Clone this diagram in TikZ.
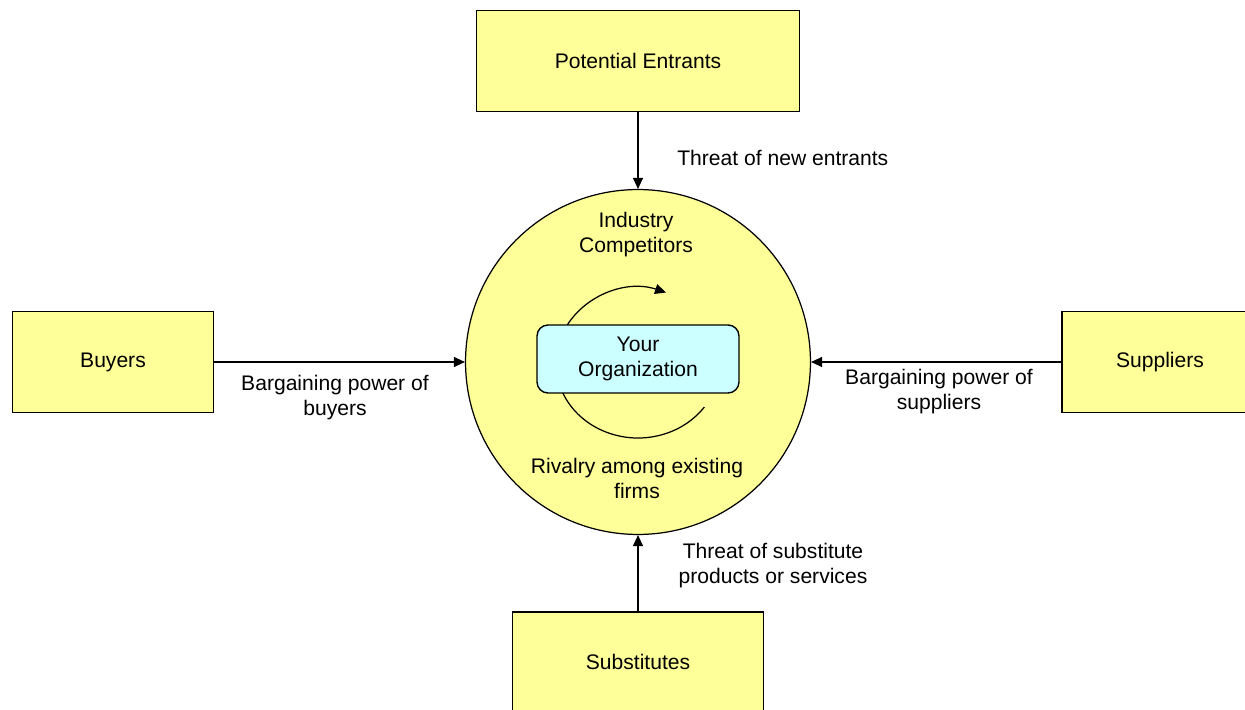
\documentclass[tikz,border=0pt]{standalone}
\usepackage{fontspec}
\setmainfont{Liberation Sans}
\usetikzlibrary{arrows.meta,positioning}
\definecolor{ForceYellow}{HTML}{FFFF99}
\definecolor{OrgCyan}{HTML}{CCFFFF}

\begin{document}
\begin{tikzpicture}[
    x=0.02cm,y=-0.02cm,
    fbox/.style={draw,fill=ForceYellow,line width=0.8pt,minimum height=2.02cm,font=\fontsize{12}{14.2}\selectfont},
    ring/.style={circle,draw,fill=ForceYellow,line width=0.7pt,minimum size=6.9cm,inner sep=0pt},
    orgbox/.style={draw,fill=OrgCyan,rounded corners=0.22cm,line width=0.8pt,minimum width=4.04cm,minimum height=1.36cm,align=center,font=\fontsize{12}{14.2}\selectfont},
    flbl/.style={align=center,inner sep=0pt,font=\fontsize{12}{14.2}\selectfont},
    >={Triangle[length=0.22cm,width=0.2cm]},
  ]
  \clip (0,0) rectangle (1245,710);
  % Forces around the industry
  \node[fbox,minimum width=6.46cm] (entrants) at (638,61) {Potential Entrants};
  \node[fbox,minimum width=4.02cm] (buyers) at (113,362) {Buyers};
  \node[fbox,minimum width=3.92cm] (suppliers) at (1160,362) {Suppliers};
  \node[fbox,minimum width=5.02cm,minimum height=2cm] (subs) at (638,662) {Substitutes};
  % Industry circle with rivalry loop
  \node[ring] (industry) at (638,362) {};
  \draw[line width=0.7pt,->] (638,363) ++(200:82 and 75) arc[start angle=200,end angle=290,x radius=82,y radius=75];
  \draw[line width=0.7pt] (638,363) ++(160:82 and 75) arc[start angle=160,end angle=36,x radius=82,y radius=75];
  \node[orgbox] (org) at (638,359) {Your\\Organization};
  \node[flbl] (comp) at (636,235) {Industry\\Competitors};
  \node[flbl] (rivalry) at (637,478) {Rivalry among existing\\firms};
  % Arrows into the industry
  \draw[line width=0.7pt,->] (entrants) -- (industry);
  \draw[line width=0.7pt,->] (buyers) -- (industry);
  \draw[line width=0.7pt,->] (suppliers) -- (industry);
  \draw[line width=0.7pt,->] (subs) -- (industry);
  \node[flbl,anchor=west] (newlbl) at (677,158) {Threat of new entrants};
  \node[flbl] (buylbl) at (335,398) {Bargaining power of\\buyers};
  \node[flbl] (suplbl) at (939,392) {Bargaining power of\\suppliers};
  \node[flbl] (sublbl) at (773,566) {Threat of substitute\\products or services};
\end{tikzpicture}
\end{document}
